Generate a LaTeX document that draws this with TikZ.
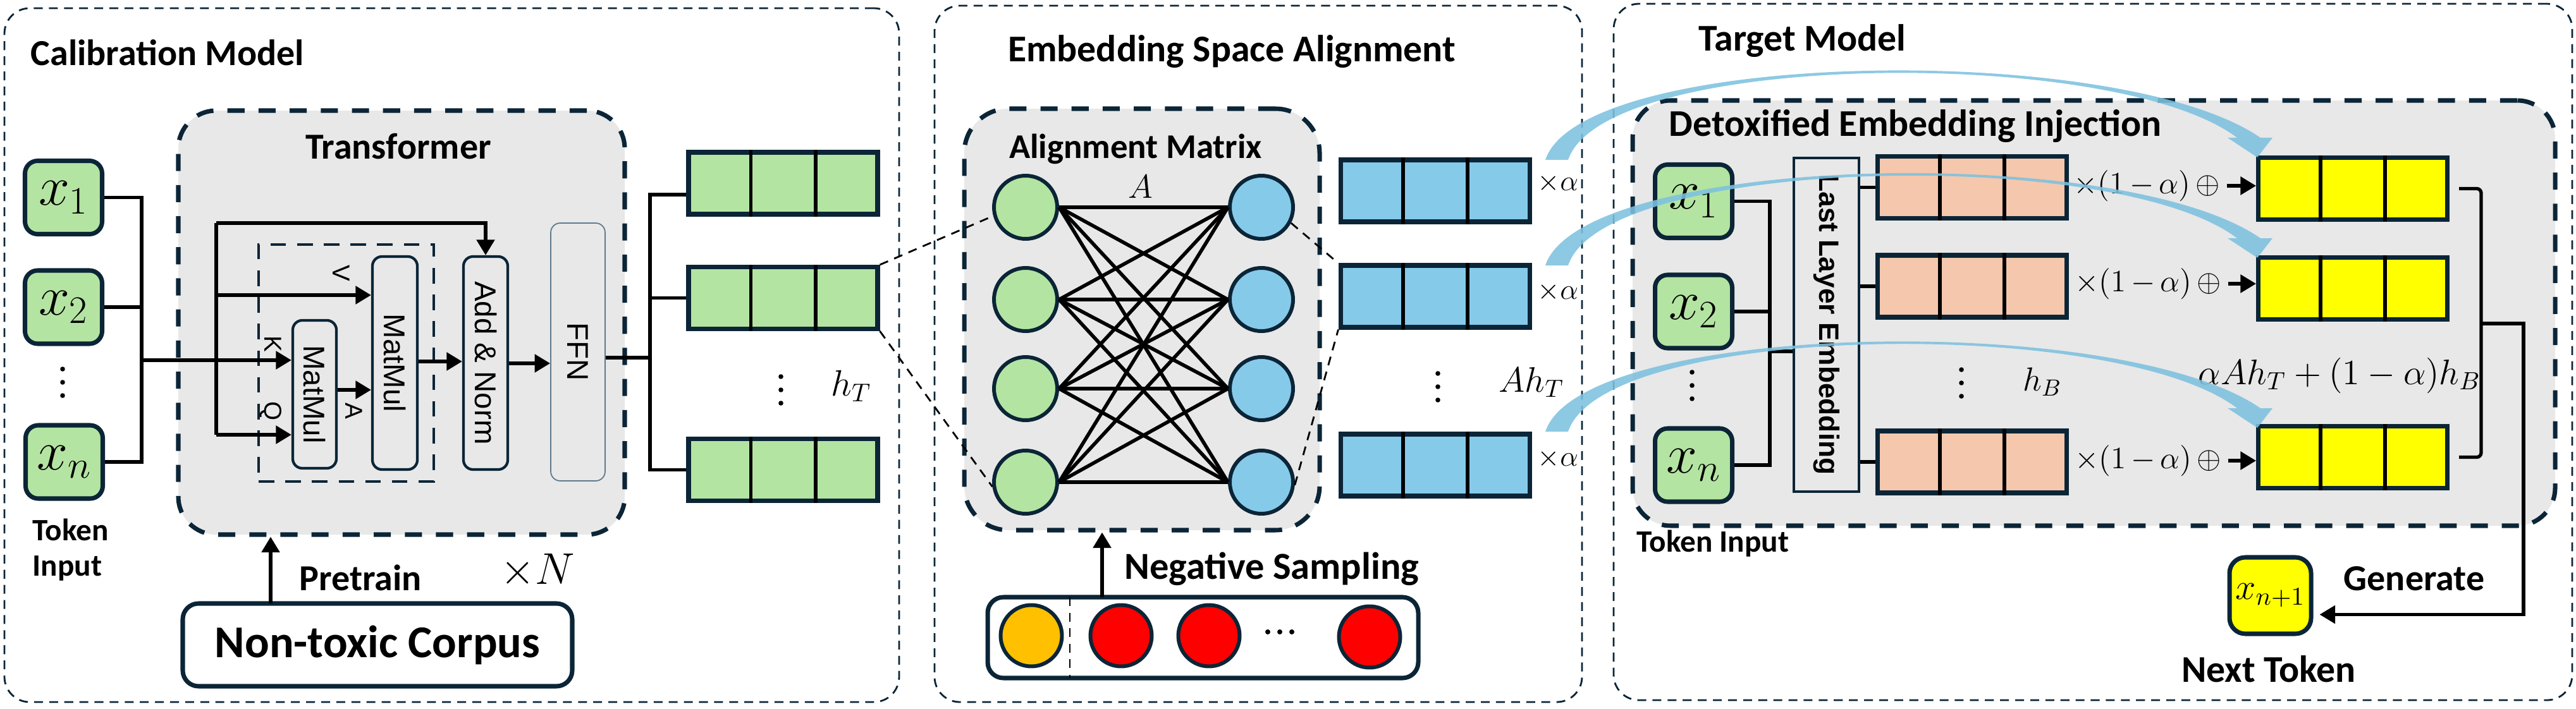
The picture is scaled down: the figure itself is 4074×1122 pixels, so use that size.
\RequirePackage{fix-cm}
\documentclass[tikz,border=0pt]{standalone}
\usepackage{fontspec}
\setmainfont{Carlito}
\newfontfamily\arialf{Liberation Sans}
\usetikzlibrary{arrows.meta,calc}
\definecolor{dk}{HTML}{0B2537}
\definecolor{gfill}{HTML}{E8E8E8}
\definecolor{grn}{HTML}{B4E4A2}
\definecolor{sky}{HTML}{86CAEA}
\definecolor{peach}{HTML}{F5C7AD}
\definecolor{yel}{HTML}{FFFF00}
\definecolor{org}{HTML}{FFC000}
\definecolor{arcc}{HTML}{7DC1DF}
\definecolor{ffnc}{HTML}{5D7A8C}
\newcommand\vecbox[5]{%
  \node[vec, fill=#4] (#1) at (#2,#3) {};
  \draw[div] ($(#1.north west)!1/3!(#1.north east)$) -- ($(#1.south west)!1/3!(#1.south east)$);
  \draw[div] ($(#1.north west)!2/3!(#1.north east)$) -- ($(#1.south west)!2/3!(#1.south east)$);
  #5}
\newcommand\vdts[2]{\fill (#1,#2-21) circle (3.8) (#1,#2) circle (3.8) (#1,#2+21) circle (3.8);}
\begin{document}
\begin{tikzpicture}[x=0.1mm,y=-0.1mm,
  panel/.style={draw=dk, line width=0.8pt, dash pattern=on 4pt off 2.8pt, rounded corners=4mm, inner sep=0},
  graybox/.style={draw=dk, fill=gfill, line width=2pt, dash pattern=on 7.7pt off 6.3pt, rounded corners=6mm, inner sep=0},
  tok/.style={draw=dk, fill=grn, line width=2pt, rounded corners=2mm, minimum width=12.2mm, minimum height=11.6mm, inner sep=0, font=\fontsize{25}{28}\selectfont},
  vec/.style={draw=dk, line width=2pt, minimum width=29.9mm, minimum height=9.8mm, inner sep=0},
  div/.style={line width=1.7pt, black},
  conn/.style={line width=1.5pt, black},
  arr/.style={conn, -{Triangle[length=7pt,width=8pt]}},
  op/.style={draw=dk, line width=1.2pt, rounded corners=1.5mm, inner sep=0},
  ttl/.style={font=\bfseries\fontsize{16.5}{19}\selectfont, inner sep=0},
  sans/.style={font=\arialf\fontsize{13.5}{16}\selectfont, inner sep=0},
  sml/.style={font=\arialf\fontsize{11}{13}\selectfont, inner sep=0},
  lbl/.style={font=\bfseries\fontsize{14}{16}\selectfont, inner sep=0},
  cir/.style={circle, draw=dk, line width=1.7pt, minimum size=10mm, inner sep=0},
  mline/.style={line width=1.6pt, black},
  dline/.style={line width=0.8pt, black, dash pattern=on 4pt off 3pt},
  curve/.style={fill=arcc, fill opacity=0.88}
]
\useasboundingbox (0,0) rectangle (4074,1122);

%================ Calibration Model =================
\node[panel, minimum width=141.5mm, minimum height=109.8mm] (P1) at (714.5,562) {};
\node[ttl, anchor=west] (T1) at (48,83) {Calibration Model};
\node[graybox, minimum width=70.6mm, minimum height=67.1mm] (trans) at (635,510.5) {};
\node[ttl] (transT) at (630,232) {Transformer};

\node[tok] (x1) at (100.5,312.5) {$x_1$};
\node[tok] (x2) at (100.5,486) {$x_2$};
\node[tok] (xn) at (101.5,731) {$x_n$};
\vdts{99}{605}
\node[lbl, align=left, anchor=west] (tokin) at (51,870) {Token\\Input};

\node[draw=dk, line width=1.2pt, dash pattern=on 7pt off 5pt, minimum width=27.7mm, minimum height=37.5mm, inner sep=0] (att) at (547.5,574.5) {};
\node[op, minimum width=6.9mm, minimum height=23.4mm] (mm1) at (497.5,624) {};
\node[sans, rotate=-90] at (mm1) {MatMul};
\node[op, minimum width=7.1mm, minimum height=33.7mm] (mm2) at (624.5,574.5) {};
\node[sans, rotate=-90] at (mm2) {MatMul};
\node[op, minimum width=7.0mm, minimum height=33.7mm] (addn) at (768,574.5) {};
\node[sans, rotate=-90] at (addn) {Add \& Norm};
\node[draw=ffnc, line width=0.5pt, rounded corners=1.5mm, minimum width=8.6mm, minimum height=40.8mm, inner sep=0] (ffn) at (914,557) {};
\node[sans, rotate=-90] at (ffn) {FFN};

% inputs
\coordinate (cb) at (224,570);
\draw[conn] (x1.east) -| (cb) |- (xn.east);
\draw[conn] (x2.east) -- (x2.east -| cb);
\draw[arr] (cb) -- (cb -| mm1.west);
\coordinate (vt) at (342,353);
\coordinate (vv) at (342,467);
\coordinate (vb) at (342,688);
\draw[conn] (vt) -- (vb);
\draw[arr] (vt) -| (addn.north);
\draw[arr] (vv) -- (vv -| mm2.west);
\draw[arr] (vb) -- (vb -| mm1.west);
\coordinate (ya) at (0,617);
\draw[arr] (mm1.east |- ya) -- (mm2.west |- ya);
\coordinate (ym) at (0,572);
\draw[arr] (mm2.east |- ym) -- (addn.west |- ym);
\coordinate (yf) at (0,575);
\draw[arr] (addn.east |- yf) -- (ffn.west |- yf);
\node[sml, rotate=-90] (lK) at (432,544) {K};
\node[sml, rotate=-90] (lV) at (540,432) {V};
\node[sml, rotate=-90] (lQ) at (428,651) {Q};
\node[sml, rotate=-90] (lA) at (560,650) {A};

% outputs
\vecbox{g1}{1238.5}{290}{grn}{}
\vecbox{g2}{1238.5}{471.5}{grn}{}
\vecbox{g3}{1238.5}{743.5}{grn}{}
\coordinate (ob) at (1028,566);
\coordinate (ob1) at (1028,308);
\coordinate (ob3) at (1028,743.5);
\draw[conn] (ffn.east |- ob) -- (ob);
\draw[conn] (g1.west |- ob1) -- (ob1) -- (ob3) -- (g3.west);
\draw[conn] (ob1 |- g2.west) -- (g2.west);
\vdts{1235}{617}
\node[inner sep=0, font=\fontsize{16.5}{19}\selectfont] (hT) at (1346,611) {$h_T$};

% pretrain
\node[draw=dk, line width=2pt, rounded corners=2.5mm, minimum width=61.6mm, minimum height=13.1mm, inner sep=0, font=\bfseries\fontsize{20.5}{24}\selectfont] (corpus) at (597,1020.5) {Non-toxic Corpus};
\coordinate (pa) at (428,955);
\draw[arr] (pa) -- (pa |- trans.south);
\node[ttl] (pre) at (570,914) {Pretrain};
\node[inner sep=0, font=\fontsize{20}{24}\selectfont] (xN) at (850,903) {$\times N$};

%================ Embedding Space Alignment =================
\node[panel, minimum width=102.4mm, minimum height=110.2mm] (P2) at (1990,560) {};
\node[font=\bfseries\fontsize{17}{20}\selectfont, inner sep=0] (T2) at (1948,82) {Embedding Space Alignment};
\node[graybox, rounded corners=7mm, minimum width=56.2mm, minimum height=66.7mm] (align) at (1806,505.5) {};
\node[font=\bfseries\fontsize{15.6}{18}\selectfont, inner sep=0] (alT) at (1796,236) {Alignment Matrix};
\node[inner sep=0, font=\fontsize{15}{18}\selectfont] (Alab) at (1804,295) {$A$};
\foreach \i/\yy in {1/328,2/474,3/615,4/763} {
  \node[cir, fill=grn] (L\i) at (1622,\yy) {};
  \node[cir, fill=sky] (R\i) at (1995,\yy) {};
}
\foreach \i in {1,...,4} { \foreach \j in {1,...,4} { \draw[mline] (L\i.east) -- (R\j.west); } }

\vecbox{b1}{2269.5}{302}{sky}{}
\vecbox{b2}{2269.5}{469}{sky}{}
\vecbox{b3}{2269.5}{736}{sky}{}
\node[inner sep=0, font=\fontsize{13}{15}\selectfont] (al1) at (2464,290) {$\times\alpha$};
\node[inner sep=0, font=\fontsize{13}{15}\selectfont] (al2) at (2464,462) {$\times\alpha$};
\node[inner sep=0, font=\fontsize{13}{15}\selectfont] (al3) at (2464,726) {$\times\alpha$};
\vdts{2274}{612}
\node[inner sep=0, font=\fontsize{16}{19}\selectfont] (AhT) at (2422,605) {$Ah_T$};

\draw[dline] (g2.north east) -- (L1.195);
\draw[dline] (g2.south east) -- (L4.188);
\draw[dline] (R1.-28) -- (b2.north west);
\draw[dline] (R4.-5) -- (b2.south west);

% negative sampling
\node[draw=dk, line width=2pt, rounded corners=2.5mm, minimum width=68.1mm, minimum height=12.8mm, inner sep=0] (neg) at (1902.5,1009) {};
\node[circle, draw=dk, line width=1.7pt, fill=org, minimum size=9.7mm, inner sep=0] (n0) at (1631,1006) {};
\node[circle, draw=dk, line width=1.7pt, fill=red, minimum size=9.7mm, inner sep=0] (n1) at (1773,1006) {};
\node[circle, draw=dk, line width=1.7pt, fill=red, minimum size=9.7mm, inner sep=0] (n2) at (1912,1006) {};
\node[circle, draw=dk, line width=1.7pt, fill=red, minimum size=9.7mm, inner sep=0] (n3) at (2166,1008) {};
\draw[line width=0.8pt, dash pattern=on 4pt off 3pt] (1692,945) -- (1692,1073);
\fill (2005,1000) circle (4) (2024,1000) circle (4) (2043,1000) circle (4);
\coordinate (na) at (1743,945);
\draw[arr] (na) -- (na |- align.south);
\node[font=\bfseries\fontsize{17.2}{20}\selectfont, inner sep=0, anchor=west] (negT) at (1778,900) {Negative Sampling};

%================ Target Model =================
\node[panel, minimum width=151.6mm, minimum height=110.2mm] (P3) at (3310,557) {};
\node[font=\bfseries\fontsize{17}{20}\selectfont, inner sep=0, anchor=west] (T3) at (2686,65) {Target Model};
\node[graybox, minimum width=145.9mm, minimum height=67.3mm] (detox) at (3311.5,495.5) {};
\node[font=\bfseries\fontsize{17}{20}\selectfont, inner sep=0, anchor=west] (detT) at (2639,200) {Detoxified Embedding Injection};

\node[tok] (t1) at (2678.5,318.5) {$x_1$};
\node[tok] (t2) at (2678.5,493) {$x_2$};
\node[tok] (tn) at (2678.5,736) {$x_n$};
\vdts{2676}{610}
\node[lbl, anchor=west] (tokin2) at (2588,860) {Token Input};

\node[draw=dk, line width=1.4pt, minimum width=10.3mm, minimum height=52.8mm, inner sep=0] (lle) at (2888.5,514) {};
\node[font=\arialf\bfseries\fontsize{12.6}{15}\selectfont, inner sep=0, rotate=-90] at (lle) {Last Layer Embedding};
\coordinate (tb) at (2799,556);
\draw[conn] (t1.east) -| (tb) |- (tn.east);
\draw[conn] (t2.east) -- (t2.east -| tb);
\draw[conn] (tb) -- (tb -| lle.west);

\vecbox{p1}{3119}{296.5}{peach}{}
\vecbox{p2}{3119}{453}{peach}{}
\vecbox{p3}{3119}{731}{peach}{}
\draw[conn] (lle.east |- p1.west) -- (p1.west);
\draw[conn] (lle.east |- p2.west) -- (p2.west);
\draw[conn] (lle.east |- p3.west) -- (p3.west);
\vdts{3102}{606}
\node[inner sep=0, font=\fontsize{15}{18}\selectfont] (hB) at (3230,604) {$h_B$};

\vecbox{y1}{3721}{298.5}{yel}{}
\vecbox{y2}{3721}{456.5}{yel}{}
\vecbox{y3}{3721}{723.5}{yel}{}
\node[inner sep=0, font=\fontsize{14}{17}\selectfont] (m1) at (3395,294) {$\times(1\,{-}\,\alpha)\,\oplus$};
\node[inner sep=0, font=\fontsize{14}{17}\selectfont] (m2) at (3397,449) {$\times(1\,{-}\,\alpha)\,\oplus$};
\node[inner sep=0, font=\fontsize{14}{17}\selectfont] (m3) at (3397,729) {$\times(1\,{-}\,\alpha)\,\oplus$};
\draw[arr] ([xshift=1mm]m1.east) -- (m1.east -| y1.west);
\draw[arr] ([xshift=1mm]m2.east) -- (m2.east -| y2.west);
\draw[arr] ([xshift=1mm]m3.east) -- (m3.east -| y3.west);
\node[inner sep=0, font=\fontsize{16}{19}\selectfont] (form) at (3700,594) {$\alpha Ah_T+(1-\alpha)h_B$};

\coordinate (bm) at (3924,512);
\draw[conn, rounded corners=2pt] ([xshift=1.5mm]y1.east) -| (bm) |- ([xshift=1.5mm]y3.east);
\node[draw=dk, line width=2pt, fill=yel, rounded corners=2.5mm, minimum width=12.9mm, minimum height=12.1mm, inner sep=0, font=\fontsize{16.5}{19}\selectfont] (next) at (3590.5,942.5) {$x_{n+1}$};
\coordinate (gr) at (3991,512);
\draw[arr] (bm) -- (gr) |- ([yshift=-3mm,xshift=1mm]next.east);
\node[ttl] (gen) at (3818,916) {Generate};
\node[font=\bfseries\fontsize{17}{20}\selectfont, inner sep=0] (nt) at (3588,1059) {Next Token};

%================ curved blue arrows =================
\fill[curve] (2444,253) .. controls (2502,78) and (3352,64) .. (3575,218) -- (3594,218) -- (3570,249) -- (3523,218) -- (3538,218) .. controls (3346,72) and (2538,80) .. (2480,253) -- cycle;
\fill[curve] (2444,420) .. controls (2502,245) and (3352,223) .. (3575,377) -- (3594,377) -- (3570,408) -- (3523,377) -- (3538,377) .. controls (3346,231) and (2538,247) .. (2480,420) -- cycle;
\fill[curve] (2444,683) .. controls (2502,508) and (3352,492) .. (3575,646) -- (3594,646) -- (3570,677) -- (3523,646) -- (3538,646) .. controls (3346,500) and (2538,510) .. (2480,683) -- cycle;
\end{tikzpicture}
\end{document}
